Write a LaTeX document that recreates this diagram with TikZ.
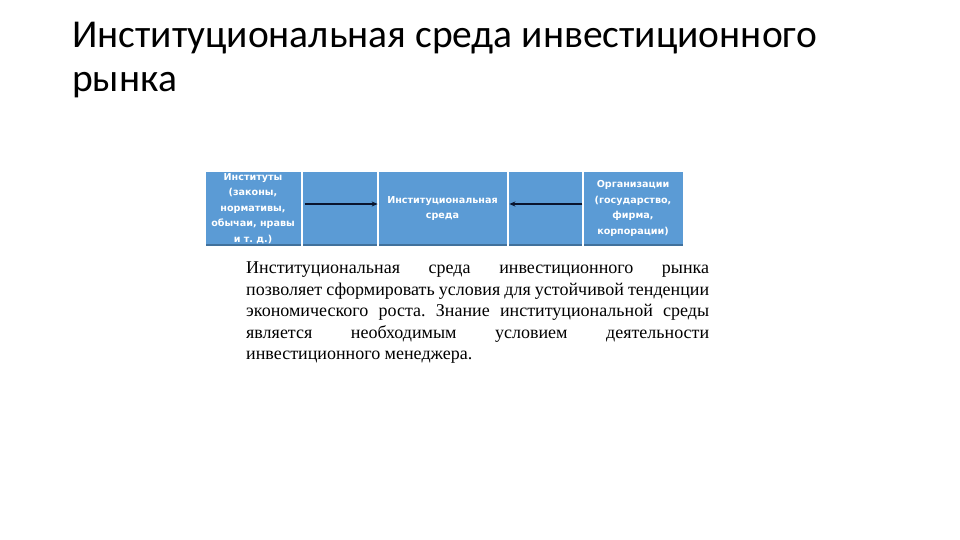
\documentclass[tikz,border=0pt]{standalone}
\usepackage{fontspec}
\setmainfont{Liberation Serif}
\newfontfamily\titlefont{Carlito}
\newfontfamily\cellfont{DejaVu Sans}
\usetikzlibrary{arrows.meta,positioning}
\definecolor{cellBlue}{RGB}{91,155,213}
\definecolor{cellEdge}{RGB}{65,113,156}
\definecolor{arrowNavy}{RGB}{10,20,45}
\frenchspacing

\begin{document}
\begin{tikzpicture}[x=1pt, y=-1pt,
  cell/.style={draw=white, line width=0.8pt, fill=cellBlue, minimum height=75pt,
    inner sep=0pt, text=white, align=center,
    font=\cellfont\bfseries\fontsize{9.6}{15.5}\selectfont,
    path picture={\fill[cellEdge] (path picture bounding box.south west)
      rectangle ([yshift=2.5pt]path picture bounding box.south east);}},
  link/.style={-{Stealth[length=6pt,width=5pt]}, line width=1.4pt, arrowNavy}]
  \useasboundingbox (0,0) rectangle (960,540);

  % title
  \node[anchor=base west, align=left, inner sep=0pt,
    font=\titlefont\fontsize{39.5}{44}\selectfont]
    (title) at (72,92) {Институциональная среда инвестиционного\\рынка};

  % row of cells
  \node[cell, minimum width=96pt] (inst) at (253,208.5)
    {Институты\\(законы,\\нормативы,\\обычаи, нравы\\и т. д.)};
  \node[cell, minimum width=75pt] (lnk1) at (339.5,208.5) {};
  \node[cell, minimum width=129pt] (env) at (442.5,208.5)
    {Институциональная\\среда};
  \node[cell, minimum width=74pt] (lnk2) at (545,208.5) {};
  \node[cell, minimum width=100pt] (org) at (633,208.5)
    {Организации\\(государство,\\фирма,\\корпорации)};

  \draw[link] ([xshift=3pt, yshift=4.5pt]lnk1.west) -- ([yshift=4.5pt]env.west);
  \draw[link] ([yshift=4.5pt]lnk2.east) -- ([xshift=2pt, yshift=4.5pt]env.east);

  % text below
  \node[anchor=north west, inner sep=0pt, text width=463pt, align=justify,
    font=\fontsize{18}{21.5}\selectfont]
    (note) at (246,262)
    {Институциональная среда инвестиционного рынка\linebreak
     позволяет сформировать условия для устойчивой тенденции\linebreak
     экономического роста. Знание институциональной среды\linebreak
     является необходимым условием деятельности\linebreak
     инвестиционного менеджера.};
\end{tikzpicture}
\end{document}
